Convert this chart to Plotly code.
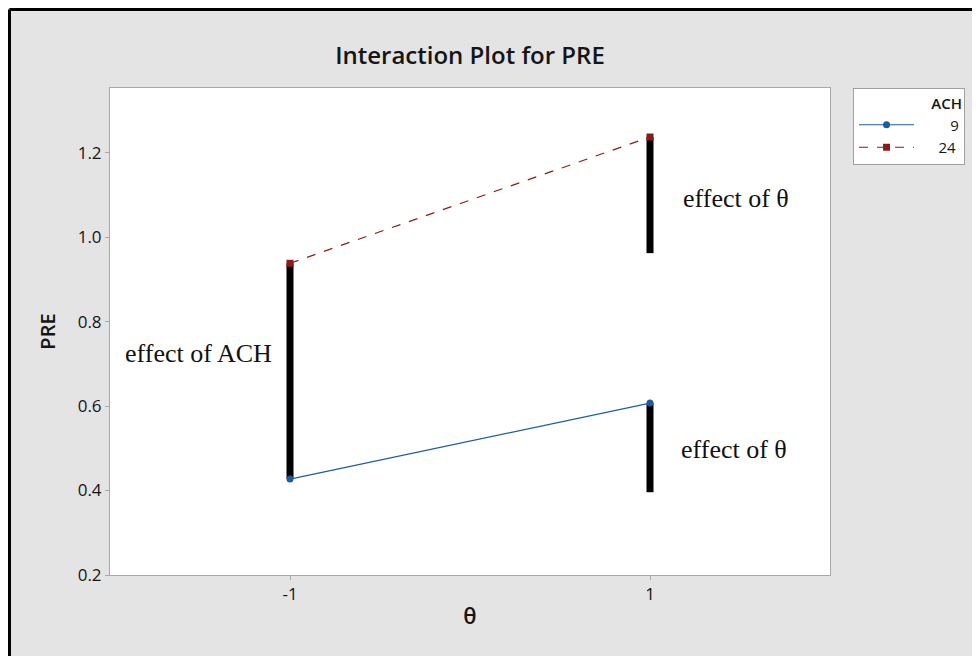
import plotly.graph_objects as go

# factor levels and cell means
theta_levels = [-1, 1]
pre_ach9 = [0.427, 0.607]
pre_ach24 = [0.938, 1.237]

# black "effect" bars drawn over the plot
ach_bar_x = [-1, -1]
ach_bar_y = [0.427, 0.938]
theta_bar_x = [1, 1]
theta_bar_hi_y = [0.962, 1.237]
theta_bar_lo_y = [0.396, 0.607]

sans = "Open Sans"
serif = "Liberation Serif"
ink = "#151515"
pad = "\u00a0"

fig = go.Figure()

for bx, by in [(ach_bar_x, ach_bar_y), (theta_bar_x, theta_bar_hi_y), (theta_bar_x, theta_bar_lo_y)]:
    fig.add_trace(go.Scatter(x=bx, y=by, mode="lines", line=dict(color="black", width=7),
                             showlegend=False, hoverinfo="skip"))

fig.add_trace(go.Scatter(x=theta_levels, y=pre_ach9, name=pad * 8 + "9", mode="lines+markers",
                         line=dict(color="#1f5c9e", width=1.2),
                         marker=dict(symbol="circle", size=7, color="#1f5c9e")))
fig.add_trace(go.Scatter(x=theta_levels, y=pre_ach24, name=pad * 5 + "24", mode="lines+markers",
                         line=dict(color="#8b1a1a", width=1.2, dash="dash"),
                         marker=dict(symbol="square", size=7, color="#8b1a1a")))

for tx, ty, txt in [(-1.51, 0.725, "effect of ACH"), (1.478, 1.092, "effect of θ"), (1.467, 0.496, "effect of θ")]:
    fig.add_annotation(x=tx, y=ty, text=txt, showarrow=False,
                       font=dict(family=serif, size=26, color="#111111"))

# black frame on the top and left edges of the picture
fig.add_shape(type="line", xref="paper", yref="paper", x0=-0.1396, x1=1.4, y0=1.1612, y1=1.1612,
              line=dict(color="black", width=3))
fig.add_shape(type="line", xref="paper", yref="paper", x0=-0.1396, x1=-0.1396, y0=1.1612, y1=-0.4,
              line=dict(color="black", width=3))

fig.update_layout(
    width=980, height=656,
    paper_bgcolor="#e4e4e4",
    plot_bgcolor="white",
    margin=dict(l=102, r=158, t=80, b=89),
    title=dict(text="Interaction Plot for PRE", x=0.5, xref="paper", xanchor="center",
               y=0.928, yanchor="middle",
               font=dict(family=sans, size=24, color=ink, weight=600)),
    font=dict(family=sans, color=ink),
    legend=dict(
        title=dict(text="ACH", side="top right", font=dict(family=sans, size=15, color=ink, weight=600)),
        x=1.032, y=1.0, xanchor="left", yanchor="top",
        bgcolor="white", bordercolor="#a0a0a0", borderwidth=1,
        font=dict(family=sans, size=15, color=ink),
        tracegroupgap=0, itemwidth=55,
    ),
)

fig.update_xaxes(range=[-2, 2], tickvals=theta_levels, ticktext=["-1", "1"],
                 showgrid=False, zeroline=False, showline=True, linecolor="#a8a8a8", mirror=True,
                 ticks="outside", ticklen=4, tickcolor="#a8a8a8",
                 tickfont=dict(family=sans, size=17, color=ink),
                 title=dict(text="θ", font=dict(family=sans, size=22, color=ink, weight=600), standoff=4))
fig.update_yaxes(range=[0.2, 1.353], tickvals=[0.2, 0.4, 0.6, 0.8, 1.0, 1.2], tickformat=".1f",
                 showgrid=False, zeroline=False, showline=True, linecolor="#a8a8a8", mirror=True,
                 ticks="outside", ticklen=4, tickcolor="#a8a8a8",
                 tickfont=dict(family=sans, size=17, color=ink),
                 title=dict(text="PRE", font=dict(family=sans, size=20, color=ink, weight=600), standoff=16))

# the figure runs past the window edge, so keep the page from showing scrollbars
fig.write_html("out.html", post_script="document.body.style.overflow = 'hidden';")
